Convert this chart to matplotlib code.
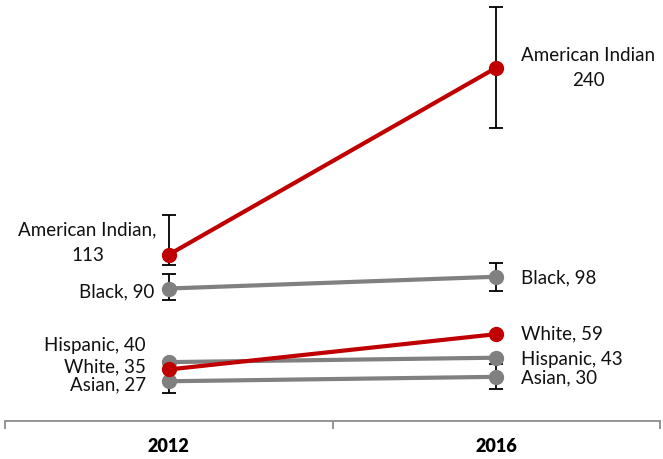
import matplotlib
matplotlib.use("Agg")
import matplotlib.pyplot as plt

YEARS = ["2012", "2016"]
GROUPS = ["American Indian", "Black", "White", "Hispanic", "Asian"]
RATE_2012 = [113, 90, 35, 40, 27]
RATE_2016 = [240, 98, 59, 43, 30]
# (lower, upper) error bar lengths per year; None where no bar is drawn
ERR_2012 = [(7, 27), (8, 10), None, None, (8, 8)]
ERR_2016 = [(41, 41), (9.5, 9.5), None, None, (8.6, 8.6)]
HIGHLIGHT = {"American Indian", "White"}

RED = "#C00000"
GRAY = "#808080"

# label offsets in pixels (dx, dy) from each point
OFF_2012 = {"American Indian": (-12, 12), "Black": (-14, -3), "Hispanic": (-23, 17),
            "White": (-23, 3), "Asian": (-23, -4)}
OFF_2016 = {"American Indian": (25, 0), "Black": (25, -1), "White": (25, 0),
            "Hispanic": (25, -2), "Asian": (25, -1)}

plt.rcParams["font.family"] = ["Lato", "DejaVu Sans"]

fig = plt.figure(figsize=(6.63, 4.59), dpi=100)
ax = fig.add_axes([5 / 663, 38 / 459, 655 / 663, 421 / 459])

x = [0, 1]
order = [g for g in GROUPS if g not in HIGHLIGHT] + [g for g in GROUPS if g in HIGHLIGHT]
for g in order:
    i = GROUPS.index(g)
    col = RED if g in HIGHLIGHT else GRAY
    z = 4 if g in HIGHLIGHT else 3
    ax.plot(x, [RATE_2012[i], RATE_2016[i]], color=col, lw=3, marker="o", ms=10,
            mfc=col, mec=col, mew=1, solid_capstyle="butt", zorder=z)
    for xi, val, err in ((0, RATE_2012[i], ERR_2012[i]), (1, RATE_2016[i], ERR_2016[i])):
        if err is None:
            continue
        ax.errorbar([xi], [val], yerr=[[err[0]], [err[1]]], fmt="none", ecolor="black",
                    elinewidth=1.3, capsize=5, capthick=1.3, zorder=2)

for i, g in enumerate(GROUPS):
    sep = ",\n" if g == "American Indian" else ", "
    sep16 = "\n" if g == "American Indian" else ", "
    ax.annotate(f"{g}{sep}{RATE_2012[i]}", (0, RATE_2012[i]), xytext=OFF_2012[g],
                textcoords="offset pixels", ha="right", va="center", ma="center",
                fontsize=13.5, linespacing=1.55, color="#111111")
    ax.annotate(f"{g}{sep16}{RATE_2016[i]}", (1, RATE_2016[i]), xytext=OFF_2016[g],
                textcoords="offset pixels", ha="left", va="center", ma="center",
                fontsize=13.5, linespacing=1.55, color="#111111", annotation_clip=False)

ax.set_xlim(-0.5, 1.5)
ax.set_ylim(0, 286)
for sp in ("top", "right", "left"):
    ax.spines[sp].set_visible(False)
ax.spines["bottom"].set_color("#8c8c8c")
ax.spines["bottom"].set_linewidth(1.3)
ax.set_yticks([])
ax.set_xticks([-0.5, 0.5, 1.5])
ax.set_xticklabels([])
ax.tick_params(axis="x", which="major", direction="out", length=6, width=1.3, color="#8c8c8c")
ax.set_xticks(x, minor=True)
ax.set_xticklabels(YEARS, minor=True, fontsize=13, fontweight="heavy")
ax.tick_params(axis="x", which="minor", length=0, pad=12)
ax.patch.set_visible(False)

fig.savefig("out.png", dpi=100)
